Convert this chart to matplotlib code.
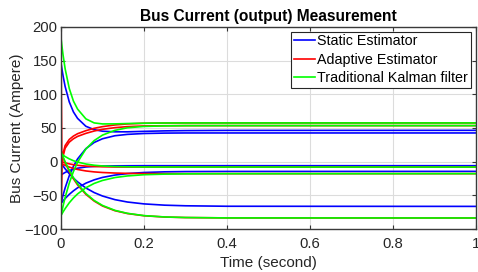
import numpy as np
import matplotlib.pyplot as plt

plt.rcParams['font.family'] = ['Liberation Sans', 'DejaVu Sans']

# time samples (second)
t = [0, 0.002, 0.005, 0.01, 0.02, 0.03, 0.04, 0.06, 0.08, 0.1, 0.13, 0.16, 0.2, 0.25, 0.3, 0.4, 1.0]

# Static estimator (blue), one curve per bus
static_a = [147, 138.6, 127.4, 111.5, 88.6, 73.8, 64.2, 52.5, 47.5, 45.2, 44.3, 44.3, 45.0, 45.7, 46.1, 46.4, 46.5]
static_b = [-62, -56.9, -49.7, -38.9, -20.8, -6.8, 4.1, 19.3, 28.5, 34, 38.5, 40.5, 41.8, 42.4, 42.6, 42.6, 42.6]
static_c = [-20, -19.1, -17.8, -16, -13.2, -11.2, -9.7, -7.9, -7, -6.5, -6.2, -6.1, -6, -6, -6, -6, -6]
static_d = [-62, -60.4, -58.2, -54.7, -48.5, -43.3, -38.8, -31.9, -27, -23.4, -19.9, -17.7, -16.1, -15.1, -14.7, -14.5, -14.4]
static_e = [-2, -3.8, -6.4, -10.6, -18, -24.4, -30, -39.1, -45.9, -51, -56.4, -59.9, -62.7, -64.6, -65.5, -66.2, -66.4]

# Adaptive estimator (red)
adaptive_a = [184, 3, 12, 24, 33, 38, 41.5, 46, 49.5, 52, 54.5, 56, 57, 57.3, 57.5, 57.5, 57.5]
adaptive_b = [-80, -1, 8, 20, 29, 34, 37.5, 42, 45.5, 48, 50.5, 52, 53, 53.3, 53.5, 53.5, 53.5]
adaptive_c = [12, 0, -0.8, -1.8, -3.3, -4.5, -5.4, -6.6, -7.2, -7.6, -7.9, -8, -8, -8, -8, -8, -8]
adaptive_d = [-80, -3, -4, -5.5, -8, -10, -11.6, -13.8, -15.2, -16.1, -16.9, -17.4, -17.7, -17.8, -17.8, -17.8, -17.8]
adaptive_e = [15, 11, 6, -1.5, -14.5, -25.5, -34.5, -48.5, -58.5, -65.8, -72.8, -77, -80.3, -82.2, -83, -83.5, -83.6]

# Traditional Kalman filter (green)
kalman_a = [184, 173, 158.3, 137.8, 108.5, 89.9, 78, 63.5, 57.5, 56, 56.1, 56.6, 57.1, 57.4, 57.5, 57.5, 57.5]
kalman_b = [-80, -74.1, -65.9, -53.1, -31.7, -14.6, -0.8, 18.8, 31.3, 39.4, 46.5, 50.3, 52.3, 53.1, 53.4, 53.5, 53.5]
kalman_c = [12, 11, 9.7, 7.6, 4.1, 1.4, -0.6, -3.5, -5.3, -6.4, -7.2, -7.6, -7.9, -8, -8, -8, -8]
kalman_d = [-80, -77.8, -74.6, -69.7, -61, -53.9, -47.9, -38.7, -32.3, -27.9, -23.6, -21.2, -19.4, -18.5, -18.1, -17.9, -17.8]
kalman_e = [15, 11.8, 7.1, -0.2, -12.9, -23.8, -33, -47.3, -57.6, -65, -72.3, -76.7, -80.1, -82.1, -82.9, -83.5, -83.6]

static = [static_a, static_b, static_c, static_d, static_e]
adaptive = [adaptive_a, adaptive_b, adaptive_c, adaptive_d, adaptive_e]
kalman = [kalman_a, kalman_b, kalman_c, kalman_d, kalman_e]

fig = plt.figure(figsize=(4.78, 2.72), dpi=100)
ax = fig.add_axes([0.1276, 0.158, 0.868, 0.743])

lw = 1.2
for i, y in enumerate(static):
    ax.plot(t, y, color='blue', lw=lw, label='Static Estimator' if i == 0 else None)
for i, y in enumerate(adaptive):
    ax.plot(t, y, color='red', lw=lw, label='Adaptive Estimator' if i == 0 else None)
for i, y in enumerate(kalman):
    ax.plot(t, y, color='#00ff00', lw=lw, label='Traditional Kalman filter' if i == 0 else None)

ax.set_xlim(0, 1)
ax.set_ylim(-100, 200)
ax.set_xticks([0, 0.2, 0.4, 0.6, 0.8, 1])
ax.set_xticklabels(['0', '0.2', '0.4', '0.6', '0.8', '1'])
ax.set_yticks([-100, -50, 0, 50, 100, 150, 200])

ax.grid(True, color='#dcdcdc', lw=0.8)
ax.set_axisbelow(True)
for s in ax.spines.values():
    s.set_color('#3a3a3a')
    s.set_linewidth(1.0)
ax.tick_params(direction='in', top=True, right=True, length=3, width=0.8,
               colors='#333333', labelsize=10.7, labelcolor='#262626')
ax.tick_params(axis='x', pad=5.5)
ax.tick_params(axis='y', pad=2.5)

ax.set_title('Bus Current (output) Measurement', fontsize=11.2, fontweight='bold', pad=4)
ax.set_xlabel('Time (second)', fontsize=11, labelpad=3.5, color='#262626')
ax.set_ylabel('Bus Current (Ampere)', fontsize=11, labelpad=0, color='#262626')

leg = ax.legend(loc='upper right', bbox_to_anchor=(0.988, 0.977), borderaxespad=0,
                fontsize=10.3, fancybox=False, edgecolor='#262626', framealpha=1,
                handlelength=1.5, handletextpad=0.15, borderpad=0.2, labelspacing=0.3)
leg.get_frame().set_linewidth(0.8)

fig.savefig('out.png', dpi=100)
